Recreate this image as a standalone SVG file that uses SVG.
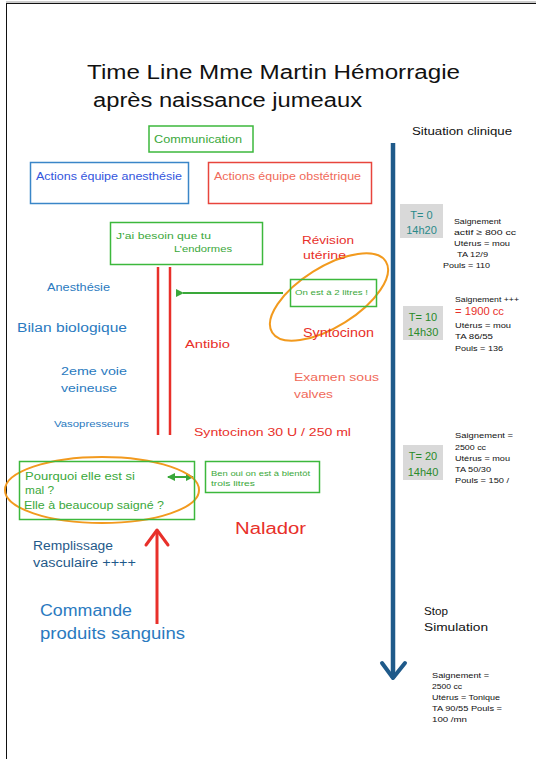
<svg xmlns="http://www.w3.org/2000/svg" width="536" height="759" viewBox="0 0 536 759">
<style>
text{font-family:"Liberation Sans","DejaVu Sans",sans-serif;}
.title{font-size:20px;fill:#111;}
.box{fill:none;stroke-width:1.5;}
.g{stroke:#3cb83c;}
.b{stroke:#3a86c8;}
.r{stroke:#e8453c;}
.gt{fill:#3aa83a;}
.bt{fill:#2a7ac0;}
.rt{fill:#e8302a;}
.st{fill:#f06a5a;}
.kt{fill:#111;font-size:8px;}
.tbox{fill:#d9d9d9;}
.teal{fill:#2a8a8a;font-size:11px;}
.grn{fill:#2a8a2a;font-size:11px;}
.orange{fill:none;stroke:#f29a1e;stroke-width:2;}
</style>
<defs>
<marker id="ga" markerWidth="8" markerHeight="8" refX="1" refY="4" orient="auto" markerUnits="userSpaceOnUse">
<path d="M8,0 L0,4 L8,8 Z" fill="#3aa83a"/>
</marker>
<marker id="gb" markerWidth="8" markerHeight="8" refX="7" refY="4" orient="auto" markerUnits="userSpaceOnUse">
<path d="M0,0 L8,4 L0,8 Z" fill="#3aa83a"/>
</marker>
</defs>
<rect width="536" height="759" fill="#fff"/>
<line x1="6" y1="2" x2="536" y2="2" stroke="#999" stroke-width="1"/>
<line x1="6" y1="3.5" x2="536" y2="3.5" stroke="#111" stroke-width="1"/>
<line x1="6.5" y1="3" x2="6.5" y2="759" stroke="#111" stroke-width="1"/>

<g id="title">
<text class="title" x="87" y="79" textLength="373" lengthAdjust="spacingAndGlyphs">Time Line Mme Martin Hémorragie</text>
<text class="title" x="93" y="107" textLength="269" lengthAdjust="spacingAndGlyphs">après naissance jumeaux</text>
</g>

<g id="connectors">
<line x1="393" y1="143" x2="393" y2="678" stroke="#1f5a8a" stroke-width="4.5"/>
<polyline points="382,663 393,678 405,663" fill="none" stroke="#1f5a8a" stroke-width="4" stroke-linejoin="round" stroke-linecap="round"/>
<line x1="158" y1="267" x2="158" y2="435" stroke="#e8302a" stroke-width="2.5"/>
<line x1="170" y1="267" x2="170" y2="435" stroke="#e8302a" stroke-width="2.5"/>
<line x1="283" y1="293" x2="183" y2="293" stroke="#3aa83a" stroke-width="2" marker-end="url(#ga)"/>
<line x1="168" y1="477" x2="193" y2="477" stroke="#3aa83a" stroke-width="2" marker-start="url(#ga)" marker-end="url(#gb)"/>
<line x1="157" y1="624" x2="157" y2="532" stroke="#e8302a" stroke-width="3"/>
<polyline points="146,545 157,530 168,545" fill="none" stroke="#e8302a" stroke-width="3" stroke-linejoin="round" stroke-linecap="round"/>
<ellipse class="orange" cx="329" cy="297" rx="67" ry="30" transform="rotate(-32 329 297)"/>
<ellipse class="orange" cx="102" cy="490" rx="97" ry="33"/>
</g>

<g id="communication">
<rect class="box g" x="149" y="126" width="104" height="26"/>
<text class="gt" x="154" y="143" font-size="10.5" textLength="88" lengthAdjust="spacingAndGlyphs">Communication</text>
</g>
<g id="anesthesie-header">
<rect class="box b" x="30.5" y="162.5" width="158" height="41"/>
<text x="36" y="180" font-size="10.5" fill="#3355dd" textLength="146" lengthAdjust="spacingAndGlyphs">Actions équipe anesthésie</text>
</g>
<g id="obstetrique-header">
<rect class="box r" x="208.5" y="162.5" width="163" height="41"/>
<text class="st" x="214" y="180" font-size="10.5" textLength="147" lengthAdjust="spacingAndGlyphs">Actions équipe obstétrique</text>
</g>
<g id="situation">
<text x="412" y="135" font-size="10" fill="#111" textLength="100" lengthAdjust="spacingAndGlyphs">Situation clinique</text>
</g>

<g id="t0">
<rect class="tbox" x="400" y="204" width="43" height="34"/>
<text class="teal" x="421.5" y="219" text-anchor="middle">T= 0</text>
<text class="teal" x="421.5" y="234" text-anchor="middle">14h20</text>
<text class="kt" x="454" y="224" textLength="47" lengthAdjust="spacingAndGlyphs">Saignement</text>
<text class="kt" x="454" y="235" textLength="62" lengthAdjust="spacingAndGlyphs">actif  ≥ 800 cc</text>
<text class="kt" x="454" y="246" textLength="56" lengthAdjust="spacingAndGlyphs">Utérus = mou</text>
<text class="kt" x="457" y="257" textLength="31" lengthAdjust="spacingAndGlyphs">TA 12/9</text>
<text class="kt" x="443" y="268" textLength="47" lengthAdjust="spacingAndGlyphs">Pouls = 110</text>
</g>
<g id="t10">
<rect class="tbox" x="403" y="306" width="40" height="34"/>
<text class="grn" x="423" y="321" text-anchor="middle">T= 10</text>
<text class="grn" x="423" y="336" text-anchor="middle">14h30</text>
<text class="kt" x="455" y="302" textLength="64" lengthAdjust="spacingAndGlyphs">Saignement +++</text>
<text x="455" y="315" font-size="10" fill="#e8302a" textLength="49" lengthAdjust="spacingAndGlyphs">= 1900 cc</text>
<text class="kt" x="455" y="328" textLength="56" lengthAdjust="spacingAndGlyphs">Utérus = mou</text>
<text class="kt" x="455" y="339" textLength="38" lengthAdjust="spacingAndGlyphs">TA 86/55</text>
<text class="kt" x="455" y="351" textLength="48" lengthAdjust="spacingAndGlyphs">Pouls = 136</text>
</g>
<g id="t20">
<rect class="tbox" x="403" y="445" width="40" height="35"/>
<text class="grn" x="423" y="460" text-anchor="middle">T= 20</text>
<text class="grn" x="423" y="476" text-anchor="middle">14h40</text>
<text class="kt" x="455" y="438" textLength="58" lengthAdjust="spacingAndGlyphs">Saignement  =</text>
<text class="kt" x="455" y="450" textLength="31" lengthAdjust="spacingAndGlyphs">2500 cc</text>
<text class="kt" x="455" y="461" textLength="55" lengthAdjust="spacingAndGlyphs">Utérus = mou</text>
<text class="kt" x="455" y="472" textLength="36" lengthAdjust="spacingAndGlyphs">TA 50/30</text>
<text class="kt" x="455" y="483" textLength="54" lengthAdjust="spacingAndGlyphs">Pouls = 150 /</text>
</g>
<g id="stop">
<text x="424" y="615" font-size="11" fill="#111" textLength="24" lengthAdjust="spacingAndGlyphs">Stop</text>
<text x="424" y="631" font-size="11" fill="#111" textLength="64" lengthAdjust="spacingAndGlyphs">Simulation</text>
</g>
<g id="final">
<text class="kt" x="432" y="678" textLength="57" lengthAdjust="spacingAndGlyphs">Saignement  =</text>
<text class="kt" x="432" y="689" textLength="30" lengthAdjust="spacingAndGlyphs">2500 cc</text>
<text class="kt" x="432" y="700" textLength="68" lengthAdjust="spacingAndGlyphs">Utérus = Tonique</text>
<text class="kt" x="432" y="711" textLength="70" lengthAdjust="spacingAndGlyphs">TA 90/55 Pouls =</text>
<text class="kt" x="432" y="722" textLength="35" lengthAdjust="spacingAndGlyphs">100 /mn</text>
</g>

<g id="endormes">
<rect class="box g" x="110.5" y="222.5" width="152" height="42"/>
<text class="gt" x="116" y="239" font-size="9" textLength="95" lengthAdjust="spacingAndGlyphs">J’ai besoin que tu</text>
<text class="gt" x="174" y="252" font-size="9" textLength="58" lengthAdjust="spacingAndGlyphs">L’endormes</text>
</g>
<g id="revision">
<text class="rt" x="302" y="244" font-size="11" textLength="52" lengthAdjust="spacingAndGlyphs">Révision</text>
<text class="rt" x="303" y="259" font-size="11" textLength="43" lengthAdjust="spacingAndGlyphs">utérine</text>
</g>
<g id="deux-litres">
<rect class="box g" x="290.5" y="279.5" width="86" height="27"/>
<text class="gt" x="295" y="295" font-size="6.5" textLength="73" lengthAdjust="spacingAndGlyphs">On est à 2 litres !</text>
</g>
<g id="syntocinon">
<text class="rt" x="303" y="337" font-size="12" textLength="71" lengthAdjust="spacingAndGlyphs">Syntocinon</text>
</g>
<g id="anesthesie"><text class="bt" x="47" y="291" font-size="11" textLength="63" lengthAdjust="spacingAndGlyphs">Anesthésie</text></g>
<g id="bilan"><text class="bt" x="17" y="332" font-size="12" textLength="110" lengthAdjust="spacingAndGlyphs">Bilan biologique</text></g>
<g id="antibio"><text class="rt" x="185" y="348" font-size="11" textLength="45" lengthAdjust="spacingAndGlyphs">Antibio</text></g>
<g id="voie">
<text class="bt" x="61" y="375" font-size="11" textLength="66" lengthAdjust="spacingAndGlyphs">2eme voie</text>
<text class="bt" x="61" y="392" font-size="11" textLength="56" lengthAdjust="spacingAndGlyphs">veineuse</text>
</g>
<g id="examen">
<text class="st" x="294" y="381" font-size="11" textLength="85" lengthAdjust="spacingAndGlyphs">Examen sous</text>
<text class="st" x="294" y="398" font-size="11" textLength="39" lengthAdjust="spacingAndGlyphs">valves</text>
</g>
<g id="vaso"><text class="bt" x="54" y="427" font-size="9" textLength="75" lengthAdjust="spacingAndGlyphs">Vasopresseurs</text></g>
<g id="syntocinon30"><text class="rt" x="194" y="436" font-size="11" textLength="157" lengthAdjust="spacingAndGlyphs">Syntocinon 30 U / 250 ml</text></g>
<g id="pourquoi">
<rect class="box g" x="19.5" y="461.5" width="175" height="58"/>
<text class="gt" x="25" y="480" font-size="10" textLength="110" lengthAdjust="spacingAndGlyphs">Pourquoi elle est si</text>
<text class="gt" x="25" y="494" font-size="10" textLength="29" lengthAdjust="spacingAndGlyphs">mal ?</text>
<text class="gt" x="24" y="509" font-size="10" textLength="140" lengthAdjust="spacingAndGlyphs">Elle à beaucoup saigné ?</text>
</g>
<g id="bientot">
<rect class="box g" x="205.5" y="461.5" width="114" height="31"/>
<text class="gt" x="211" y="476" font-size="6.8" textLength="99" lengthAdjust="spacingAndGlyphs">Ben oui on est à bientôt</text>
<text class="gt" x="211" y="486" font-size="6.8" textLength="44" lengthAdjust="spacingAndGlyphs">trois litres</text>
</g>
<g id="nalador"><text class="rt" x="235" y="534" font-size="16" textLength="71" lengthAdjust="spacingAndGlyphs">Nalador</text></g>
<g id="remplissage">
<text x="33" y="550" font-size="12" fill="#1f5a8a" textLength="80" lengthAdjust="spacingAndGlyphs">Remplissage</text>
<text x="33" y="567" font-size="12" fill="#1f5a8a" textLength="103" lengthAdjust="spacingAndGlyphs">vasculaire ++++</text>
</g>
<g id="commande">
<text class="bt" x="40" y="616" font-size="16" textLength="92" lengthAdjust="spacingAndGlyphs">Commande</text>
<text class="bt" x="40" y="639" font-size="16" textLength="145" lengthAdjust="spacingAndGlyphs">produits sanguins</text>
</g>
</svg>
